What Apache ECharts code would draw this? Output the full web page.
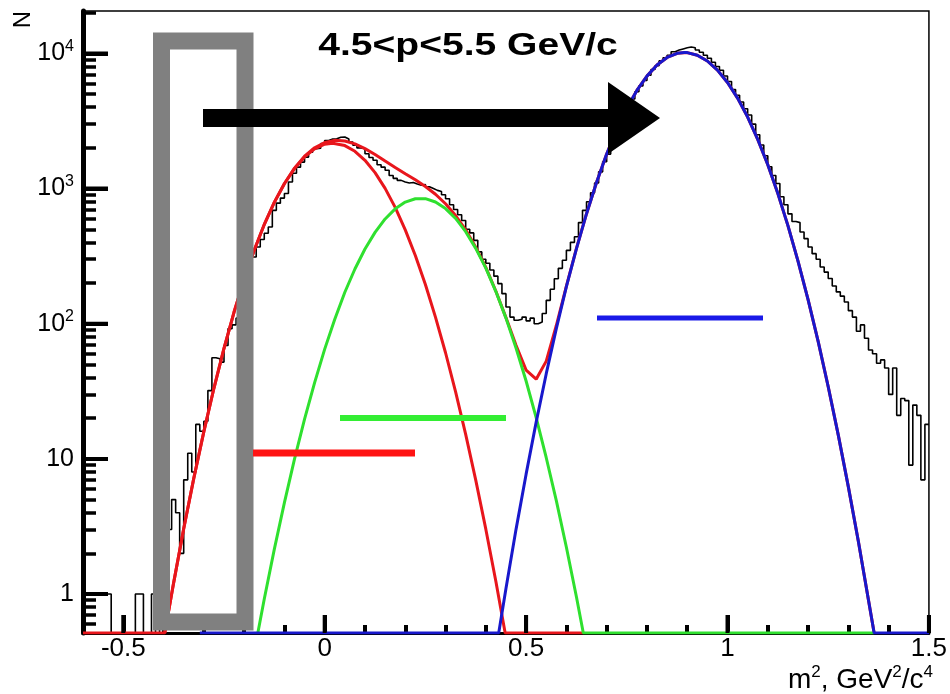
<!DOCTYPE html>
<html>
<head>
<meta charset="utf-8">
<script src="https://cdn.jsdelivr.net/npm/echarts@6/dist/echarts.min.js"></script>
<style>
  html, body { margin: 0; padding: 0; background: #ffffff; }
  #chart { width: 950px; height: 694px; }
</style>
</head>
<body>
<div id="chart"></div>
<script>
// m^2 distribution, 4.5<p<5.5 GeV/c: histogram in 0.01 bins starting at -0.6
const binStart = -0.6;
const binWidth = 0.01;
const counts = [
  1, 1, 1, 1, 1, 1, 1, 0, 0, 0,
  0, 0, 0, 1, 1, 0, 0, 1, 0, 2,
  1, 3, 5, 4, 2, 7, 11, 8, 18, 16,
  19, 32, 56, 55, 52, 69, 92, 98, 110, 140,
  180, 240, 312, 370, 420, 467, 520, 690, 780, 850,
  920, 1120, 1300, 1440, 1570, 1710, 1860, 1970, 1990, 2150,
  2270, 2330, 2340, 2400, 2410, 2330, 2210, 2090, 2000, 1970,
  1810, 1700, 1620, 1500, 1440, 1365, 1250, 1190, 1150, 1120,
  1100, 1110, 1080, 1060, 1070, 1030, 1000, 970, 950, 900,
  840, 760, 700, 640, 580, 500, 470, 414, 340, 300,
  280, 250, 225, 198, 167, 133, 112, 106, 108, 112,
  105, 110, 100, 103, 119, 149, 180, 215, 257, 295,
  349, 400, 440, 560, 690, 800, 930, 1100, 1330, 1580,
  1800, 2150, 2500, 3000, 3580, 4100, 4600, 5200, 5750, 6300,
  6900, 7600, 8100, 8800, 9300, 9700, 10300, 10600, 10800, 11000,
  11150, 11000, 10600, 10200, 9700, 9200, 8600, 8000, 7500, 6800,
  6200, 5400, 4900, 4370, 3900, 3500, 3000, 2500, 2100, 1750,
  1450, 1250, 1090, 870, 760, 650, 570, 560, 477, 426,
  370, 330, 300, 263, 241, 216, 190, 172, 160, 145,
  125, 112, 88, 98, 78, 64, 60, 51, 54, 47,
  30, 47, 21, 28, 27, 9, 25, 21, 7, 18
];

// Pion fit (red)
const pionX = [-0.6, -0.397, -0.375, -0.35, -0.325, -0.3, -0.275, -0.25, -0.225, -0.2, -0.175, -0.15, -0.125, -0.1, -0.075, -0.05, -0.025, 0, 0.02, 0.05, 0.075, 0.1, 0.125, 0.15, 0.175, 0.2, 0.225, 0.25, 0.275, 0.3, 0.325, 0.35, 0.375, 0.4, 0.425, 0.448, 0.642];
const pionN = [0, 0, 1.21, 3.04, 7.18, 15.9, 33.3, 65.6, 122, 212, 350, 542, 791, 1086, 1406, 1714, 1968, 2128, 2168, 2080, 1888, 1619, 1312, 1004, 726, 495, 320, 195, 112, 61, 31.3, 15.2, 6.97, 3.02, 1.24, 0, 0];

// Kaon fit (green)
const kaonX = [-0.166, -0.15, -0.125, -0.1, -0.075, -0.05, -0.025, 0, 0.025, 0.05, 0.075, 0.1, 0.125, 0.15, 0.175, 0.2, 0.225, 0.25, 0.275, 0.3, 0.325, 0.35, 0.375, 0.4, 0.425, 0.45, 0.475, 0.5, 0.525, 0.55, 0.575, 0.6, 0.625, 0.642, 1.364];
const kaonN = [0, 0.92, 2.15, 4.75, 9.95, 19.7, 36.7, 64.9, 108, 171, 254, 357, 474, 596, 708, 794, 841, 842, 796, 711, 601, 480, 361, 258, 173, 110, 66.2, 37.7, 20.2, 10.2, 4.91, 2.22, 0.95, 0, 0];

// Proton fit (blue)
const protonX = [-0.31, 0.432, 0.45, 0.475, 0.5, 0.525, 0.55, 0.575, 0.6, 0.625, 0.65, 0.675, 0.7, 0.725, 0.75, 0.775, 0.8, 0.825, 0.85, 0.875, 0.893, 0.9, 0.925, 0.95, 0.975, 1.0, 1.025, 1.05, 1.075, 1.1, 1.125, 1.15, 1.175, 1.2, 1.225, 1.25, 1.275, 1.3, 1.325, 1.35, 1.364, 1.5];
const protonN = [0, 0, 1.10, 3.01, 7.71, 18.7, 42.7, 92, 188, 360, 652, 1114, 1799, 2735, 3926, 5321, 6792, 8204, 9333, 10012, 10162, 10139, 9705, 8790, 7530, 6095, 4667, 3381, 2312, 1500, 918, 532, 291, 151, 74, 34.2, 15.0, 6.21, 2.44, 0.90, 0, 0];

// Sum of the three fits (red)
const totalX = [-0.397, -0.375, -0.35, -0.325, -0.3, -0.275, -0.25, -0.225, -0.2, -0.175, -0.15, -0.125, -0.1, -0.075, -0.05, -0.025, 0, 0.025, 0.05, 0.075, 0.1, 0.125, 0.15, 0.175, 0.2, 0.225, 0.25, 0.275, 0.3, 0.325, 0.35, 0.375, 0.4, 0.425, 0.45, 0.475, 0.5, 0.525, 0.55, 0.575, 0.6, 0.625, 0.65, 0.675, 0.7, 0.725, 0.75, 0.775, 0.8, 0.825, 0.85, 0.875, 0.9, 0.925, 0.95, 0.975, 1.0, 1.025, 1.05, 1.075, 1.1, 1.125, 1.15, 1.175, 1.2, 1.225, 1.25, 1.275, 1.3, 1.325, 1.35, 1.364];
const totalN = [0, 1.21, 3.04, 7.18, 15.9, 33.3, 65.6, 122, 212, 350, 543, 793, 1091, 1416, 1734, 2005, 2193, 2274, 2251, 2142, 1976, 1786, 1600, 1434, 1289, 1161, 1037, 908, 772, 632, 495, 368, 261, 174, 111, 69.2, 45.4, 38.9, 52.9, 97, 190, 361, 652, 1114, 1799, 2735, 3926, 5321, 6792, 8204, 9333, 10012, 10139, 9705, 8790, 7530, 6095, 4667, 3381, 2312, 1500, 918, 532, 291, 151, 74, 34.2, 15.0, 6.21, 2.44, 0.90, 0];

// Axis ticks
const xMajorTicks = [-0.5, 0, 0.5, 1, 1.5];
const xMinorTicks = [-0.4, -0.3, -0.2, -0.1, 0.1, 0.2, 0.3, 0.4, 0.6, 0.7, 0.8, 0.9, 1.1, 1.2, 1.3, 1.4];
const yMajorTicks = [1, 10, 100, 1000, 10000];
const yMinorTicks = [0.6, 0.7, 0.8, 0.9, 2, 3, 4, 5, 6, 7, 8, 9, 20, 30, 40, 50, 60, 70, 80, 90,
  200, 300, 400, 500, 600, 700, 800, 900, 2000, 3000, 4000, 5000, 6000, 7000, 8000, 9000, 20000];

const X_MIN = -0.6, X_MAX = 1.5;
const Y_MIN = 0.515, Y_MAX = 20600;

const GRID = { left: 83, right: 20, top: 11, bottom: 61 };
const W = 950, H = 694;

const FONT = '"Liberation Sans", Arial, Helvetica, sans-serif';

// empty bins / vanishing fit values sit on the lower edge of the log axis
const floorVal = v => (v > Y_MIN ? v : Y_MIN);

const histData = counts.map((c, i) => [+(binStart + i * binWidth).toFixed(2), floorVal(c)]);
histData.push([X_MAX, floorVal(counts[counts.length - 1])]);

const pairs = (xs, ns) => xs.map((x, i) => [x, floorVal(ns[i])]);

const RED = '#e8161c';
const GREEN = '#2fe02f';
const BLUE = '#1818cc';

function curve(name, xs, ns, color, z) {
  return {
    name, type: 'line', data: pairs(xs, ns), symbol: 'none', z,
    xAxisIndex: 0, yAxisIndex: 0,
    lineStyle: { color, width: 3 }, clip: true, animation: false
  };
}

// tick-only axis sharing the extent of the main one
function tickAxis(type, min, max, position, values, length, width) {
  const ax = {
    type, min, max, position, offset: 0,
    axisLine: { show: false, onZero: false },
    axisTick: { show: true, inside: true, length, customValues: values,
      lineStyle: { color: '#000', width } },
    axisLabel: { show: false },
    splitLine: { show: false }
  };
  if (type === 'log') ax.logBase = 10;
  return ax;
}

// long ticks at the labelled values: short segments drawn in axis units
const plotW = W - GRID.left - GRID.right;
const plotH = H - GRID.top - GRID.bottom;
const xTickTop = Y_MIN * Math.pow(Y_MAX / Y_MIN, 18 / plotH);
const yTickEnd = X_MIN + (X_MAX - X_MIN) * 25 / plotW;

function segments(list) {
  const out = [];
  list.forEach(seg => { out.push(seg[0], seg[1], null); });
  return out;
}

const xMajorSeries = {
  name: 'xMajor', type: 'line', symbol: 'none', z: 6, clip: false, silent: true,
  connectNulls: false, xAxisIndex: 0, yAxisIndex: 0,
  lineStyle: { color: '#000', width: 4, cap: 'butt' },
  data: segments(xMajorTicks.map(v => [[v, Y_MIN], [v, xTickTop]]))
};
const yMajorSeries = {
  name: 'yMajor', type: 'line', symbol: 'none', z: 6, clip: false, silent: true,
  connectNulls: false, xAxisIndex: 0, yAxisIndex: 0,
  lineStyle: { color: '#000', width: 4, cap: 'butt' },
  data: segments(yMajorTicks.map(v => [[X_MIN, v], [yTickEnd, v]]))
};

const chart = echarts.init(document.getElementById('chart'), null, { renderer: 'canvas' });

const option = {
  animation: false,
  backgroundColor: '#ffffff',
  grid: Object.assign({}, GRID, {
    show: true, borderColor: '#000', borderWidth: 1.5, backgroundColor: 'transparent'
  }),
  xAxis: [
    {
      type: 'value', min: X_MIN, max: X_MAX, position: 'bottom',
      axisLine: { show: true, onZero: false, lineStyle: { color: '#000', width: 3 } },
      axisTick: { show: false },
      axisLabel: { show: true, customValues: xMajorTicks, margin: 3, color: '#000',
        fontSize: 26, fontFamily: FONT },
      splitLine: { show: false }
    },
    tickAxis('value', X_MIN, X_MAX, 'bottom', xMinorTicks, 8, 4),
    tickAxis('value', X_MIN, X_MAX, 'bottom', xMajorTicks, 18, 4)
  ],
  yAxis: [
    {
      type: 'log', logBase: 10, min: Y_MIN, max: Y_MAX, position: 'left',
      axisLine: { show: true, onZero: false, lineStyle: { color: '#000', width: 5 } },
      axisTick: { show: false },
      axisLabel: {
        show: true, customValues: yMajorTicks, margin: 9, color: '#000',
        fontSize: 25, fontFamily: FONT, lineHeight: 30,
        formatter: v => {
          const e = Math.round(Math.log10(v));
          if (e === 0) return '1';
          if (e === 1) return '10';
          return '10{sup|' + e + '}';
        },
        rich: {
          sup: { fontSize: 16, fontFamily: FONT, color: '#000', verticalAlign: 'top', lineHeight: 30 }
        }
      },
      splitLine: { show: false }
    },
    tickAxis('log', Y_MIN, Y_MAX, 'left', yMinorTicks, 13, 3.5),
    tickAxis('log', Y_MIN, Y_MAX, 'left', yMajorTicks, 25, 4)
  ],
  series: [
    {
      name: 'data', type: 'line', step: 'end', data: histData, symbol: 'none', z: 2,
      xAxisIndex: 0, yAxisIndex: 0,
      lineStyle: { color: '#000', width: 1.6 }, clip: true, animation: false
    },
    curve('pion', pionX, pionN, RED, 3),
    curve('total', totalX, totalN, RED, 3),
    curve('kaon', kaonX, kaonN, GREEN, 4),
    curve('proton', protonX, protonN, BLUE, 5),
    xMajorSeries,
    yMajorSeries
  ],
  graphic: [
    // selection box
    { type: 'rect', z: 100, shape: { x: 161.5, y: 41, width: 83.5, height: 581 },
      style: { fill: 'none', stroke: '#808080', lineWidth: 17 } },
    // arrow
    { type: 'polygon', z: 101,
      shape: { points: [[203, 109], [608, 109], [608, 82], [660, 118], [608, 154], [608, 127], [203, 127]] },
      style: { fill: '#000' } },
    // coloured markers
    { type: 'line', z: 100, shape: { x1: 253, y1: 453, x2: 415, y2: 453 },
      style: { stroke: '#ff1414', lineWidth: 7 } },
    { type: 'line', z: 100, shape: { x1: 340, y1: 418, x2: 506, y2: 418 },
      style: { stroke: '#33ee33', lineWidth: 6 } },
    { type: 'line', z: 100, shape: { x1: 597, y1: 318, x2: 763, y2: 318 },
      style: { stroke: '#1a1ae8', lineWidth: 5 } },
    // title
    { type: 'text', z: 102, x: 468, y: 46, scaleX: 1.22,
      style: { text: '4.5<p<5.5 GeV/c', font: 'bold 32px ' + FONT, fill: '#000',
        align: 'center', verticalAlign: 'middle', textAlign: 'center', textVerticalAlign: 'middle' } },
    // axis titles
    { type: 'text', z: 102, x: 933, y: 680,
      style: { text: 'm{s|2}, GeV{s|2}/c{s|4}', font: '28px ' + FONT, fill: '#000',
        align: 'right', verticalAlign: 'middle', textAlign: 'right', textVerticalAlign: 'middle',
        lineHeight: 32,
        rich: { s: { fontSize: 17, fontFamily: FONT, fill: '#000', verticalAlign: 'top', lineHeight: 32 } } } },
    { type: 'text', z: 102, x: 23, y: 19.5, rotation: Math.PI / 2,
      style: { text: 'N', font: '24px ' + FONT, fill: '#000',
        align: 'center', verticalAlign: 'middle', textAlign: 'center', textVerticalAlign: 'middle' } }
  ]
};

chart.setOption(option);
</script>
</body>
</html>
